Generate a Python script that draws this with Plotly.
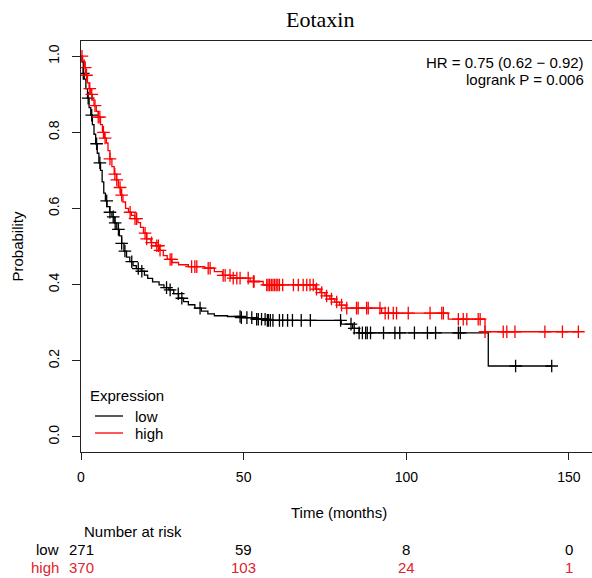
import numpy as np
import plotly.graph_objects as go

# ---- data ----
low_times = [0, 0.3, 0.7, 1.0, 1.5, 2.0, 2.5, 3.0, 3.5, 4.0, 4.5, 5.0, 5.5, 6.0, 6.5, 7.0,
             7.5, 8.0, 8.8, 9.5, 10.2, 11.0, 11.8, 12.5, 13.2, 14.0, 15.0, 16.0, 17.0,
             18.5, 19.5, 20.5, 22.0, 24.0, 25.5, 27.0, 28.5, 30.0, 31.5, 33.0, 35.0,
             37.0, 39.0, 41.0, 45.0, 49.0, 53.0, 57.0, 80.0, 83.5, 85.5, 125.2]
low_surv = [1.0, 0.985, 0.955, 0.94, 0.915, 0.89, 0.865, 0.845, 0.82, 0.795, 0.77, 0.745,
            0.72, 0.70, 0.67, 0.64, 0.62, 0.605, 0.59, 0.578, 0.562, 0.545, 0.528, 0.508,
            0.488, 0.472, 0.46, 0.45, 0.442, 0.435, 0.425, 0.416, 0.407, 0.399, 0.392,
            0.386, 0.376, 0.364, 0.355, 0.347, 0.338, 0.330, 0.323, 0.318, 0.316, 0.313,
            0.309, 0.306, 0.296, 0.285, 0.273, 0.186]
low_end = 144.7
low_censor = [0.7, 2.2, 3.3, 4.8, 5.8, 7.9, 8.9, 9.9, 10.5, 11.5, 12.5, 13.5, 15.6, 17.6,
              18.7, 26.3, 27.4, 29.9, 31.0, 36.6, 48.9, 49.3, 51.0, 52.5, 54.0, 54.5, 55.5,
              56.6, 57.3, 57.6, 58.2, 59.0, 61.0, 62.0, 63.5, 65.0, 67.7, 70.5, 79.8, 83.0,
              84.0, 85.5, 86.5, 87.5, 88.0, 89.0, 93.0, 96.5, 98.0, 102.5, 106.5, 109.0,
              116.0, 116.6, 133.6, 144.7]

high_times = [0, 0.5, 1.0, 1.5, 2.0, 2.5, 3.0, 3.5, 4.0, 4.7, 5.3, 6.0, 6.6, 7.2, 7.8, 8.3,
              8.9, 9.5, 10.2, 10.9, 11.5, 12.2, 12.9, 13.7, 14.6, 15.5, 16.5, 17.5, 18.3,
              19.2, 20.2, 21.5, 23.0, 24.2, 25.3, 26.5, 28.0, 30.0, 33.0, 38.0, 41.0, 43.5,
              46.0, 52.0, 56.0, 72.0, 73.5, 75.0, 76.5, 78.0, 79.5, 81.5, 92.4, 112.9, 124.2]
high_surv = [1.0, 0.99, 0.97, 0.95, 0.93, 0.915, 0.90, 0.885, 0.87, 0.855, 0.84, 0.82,
             0.80, 0.785, 0.772, 0.752, 0.73, 0.71, 0.69, 0.675, 0.655, 0.635, 0.617, 0.60,
             0.59, 0.582, 0.573, 0.563, 0.55, 0.535, 0.52, 0.51, 0.502, 0.49, 0.476, 0.466,
             0.458, 0.452, 0.447, 0.443, 0.434, 0.424, 0.417, 0.408, 0.399, 0.388, 0.379,
             0.370, 0.362, 0.354, 0.346, 0.338, 0.325, 0.309, 0.276]
high_end = 152.9
high_censor = [0.3, 1.3, 1.7, 2.7, 3.3, 4.3, 5.3, 5.8, 6.9, 7.4, 8.9, 10.4, 11.0, 12.0,
               12.5, 15.1, 16.6, 17.1, 19.7, 20.2, 21.7, 23.3, 23.8, 24.3, 27.4, 27.9, 34.0,
               35.0, 35.6, 39.1, 39.7, 43.7, 44.3, 45.8, 46.8, 47.9, 48.9, 51.4, 53.0, 53.2,
               57.1, 57.5, 58.0, 58.5, 59.0, 59.5, 60.0, 60.5, 61.0, 62.0, 65.3, 66.8, 68.3,
               69.4, 70.4, 71.4, 72.4, 74.0, 75.5, 77.0, 78.6, 80.1, 81.7, 84.7, 85.2, 87.8,
               88.3, 91.9, 93.5, 94.5, 96.0, 97.0, 100.6, 107.3, 110.9, 111.4, 116.0, 117.5,
               118.6, 122.1, 122.7, 124.2, 129.8, 130.9, 133.4, 142.6, 148.0, 152.9]

risk_times = [0, 50, 100, 150]
risk_low = [271, 59, 8, 0]
risk_high = [370, 103, 24, 1]
group_names = ["low", "high"]

title_text = "Eotaxin"
hr_text = "HR = 0.75 (0.62 \u2212 0.92)"
p_text = "logrank P = 0.006"
legend_title = "Expression"

BLACK = "#000000"
RED = "#ff0000"
RISK_RED = "#e0242b"


def step_value(times, surv, t):
    idx = np.searchsorted(np.asarray(times), np.asarray(t), side="right") - 1
    return np.asarray(surv)[idx]


fig = go.Figure()
for name, times, surv, end, cens, col in [
    ("low", low_times, low_surv, low_end, low_censor, BLACK),
    ("high", high_times, high_surv, high_end, high_censor, RED),
]:
    xs = list(times) + [end]
    ys = list(surv) + [surv[-1]]
    fig.add_trace(go.Scatter(x=xs, y=ys, mode="lines", line=dict(color=col, width=1.3, shape="hv"),
                             name=name, showlegend=False))
    fig.add_trace(go.Scatter(x=cens, y=step_value(times, surv, cens), mode="markers",
                             marker=dict(symbol="cross-thin", size=9, line=dict(color=col, width=1.3)),
                             showlegend=False, hoverinfo="skip"))

FONT = "Liberation Sans, Arial, sans-serif"
L, T, B = 81, 41, 452
W, H = 592, 578
plot_h = B - T


def py(p):
    return (B - p) / plot_h


def px(p):
    return (p - L) / (W - L)


fig.update_layout(
    width=W, height=H,
    margin=dict(l=L, r=0, t=T, b=H - B),
    paper_bgcolor="white", plot_bgcolor="white",
    font=dict(family=FONT, size=14, color="black"),
    showlegend=False,
)
fig.update_xaxes(range=[0, (W - L) / 3.253], showgrid=False, zeroline=False,
                 showline=True, linecolor="#222", linewidth=1.3, mirror=True,
                 ticks="outside", ticklen=7, tickcolor="#222", tickwidth=1.2,
                 tickvals=risk_times, ticktext=[str(v) for v in risk_times],
                 tickfont=dict(size=14, family=FONT), ticklabelstandoff=5)
fig.update_yaxes(range=[-0.04, 1.04], showgrid=False, zeroline=False,
                 showline=True, linecolor="#222", linewidth=1.3,
                 ticks="outside", ticklen=8, tickcolor="#222", tickwidth=1.2,
                 tickvals=[0, 0.2, 0.4, 0.6, 0.8, 1.0], tickformat=".1f", tickangle=-90,
                 tickfont=dict(size=14, family=FONT), ticklabelstandoff=7,
                 title=dict(text="Probability", font=dict(size=15, family=FONT), standoff=19))

# legend (drawn like R's legend box without border)
shapes = []
legend_rows = [(416, BLACK), (433, RED)]
for (yy, col) in legend_rows:
    shapes.append(dict(type="line", xref="paper", yref="paper", x0=px(95), x1=px(123),
                       y0=py(yy), y1=py(yy), line=dict(color=col, width=1.3)))

ann = []
ann.append(dict(text=legend_title, xref="paper", yref="paper", x=px(88), y=py(395),
                xanchor="left", yanchor="middle", showarrow=False, font=dict(size=15)))
for (yy, col), nm in zip(legend_rows, group_names):
    ann.append(dict(text=nm, xref="paper", yref="paper", x=px(133), y=py(yy),
                    xanchor="left", yanchor="middle", showarrow=False, font=dict(size=15)))
ann.append(dict(text=title_text, xref="paper", yref="paper", x=px(320), y=py(19),
                xanchor="center", yanchor="middle", showarrow=False,
                font=dict(family="Liberation Serif, Times New Roman, serif", size=22)))
ann.append(dict(text=hr_text, xref="paper", yref="paper", x=px(586), y=py(62),
                xanchor="right", yanchor="middle", showarrow=False, font=dict(size=15)))
ann.append(dict(text=p_text, xref="paper", yref="paper", x=px(586), y=py(79),
                xanchor="right", yanchor="middle", showarrow=False, font=dict(size=15)))
ann.append(dict(text="Time (months)", xref="paper", yref="paper", x=px(339), y=py(512),
                xanchor="center", yanchor="middle", showarrow=False, font=dict(size=15)))
ann.append(dict(text="Number at risk", xref="paper", yref="paper", x=px(82), y=py(531),
                xanchor="left", yanchor="middle", showarrow=False, font=dict(size=15)))
ann.append(dict(text=group_names[0], xref="paper", yref="paper", x=px(61), y=py(549),
                xanchor="right", yanchor="middle", showarrow=False, font=dict(size=15, color=BLACK)))
ann.append(dict(text=group_names[1], xref="paper", yref="paper", x=px(61), y=py(567),
                xanchor="right", yanchor="middle", showarrow=False, font=dict(size=15, color=RISK_RED)))
for t, nl, nh in zip(risk_times, risk_low, risk_high):
    ann.append(dict(text=str(nl), xref="x", yref="paper", x=t, y=py(549),
                    xanchor="center", yanchor="middle", showarrow=False, font=dict(size=15, color=BLACK)))
    ann.append(dict(text=str(nh), xref="x", yref="paper", x=t, y=py(567),
                    xanchor="center", yanchor="middle", showarrow=False, font=dict(size=15, color=RISK_RED)))
fig.update_layout(annotations=ann, shapes=shapes)

fig.write_html("out.html")
